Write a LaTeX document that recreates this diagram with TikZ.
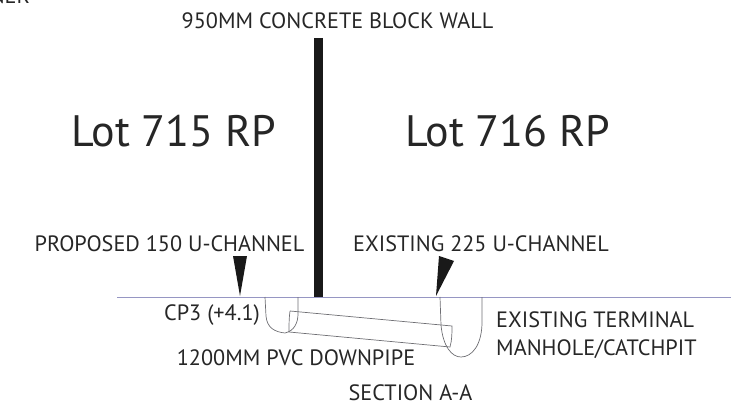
\documentclass[tikz,border=0pt]{standalone}
\usepackage{fontspec}
\setmainfont{PT Sans}
\usepackage{xcolor}
\definecolor{groundblue}{RGB}{150,150,195}
\definecolor{channelgray}{RGB}{110,110,115}
\tikzset{
 small label/.style={font=\fontsize{22.2}{24}\selectfont, text=black!85, inner sep=0pt, anchor=base},
 lot label/.style={font=\fontsize{44}{48}\selectfont, text=black!85, inner sep=0pt, anchor=base},
 channel/.style={color=channelgray, line width=0.7pt}
}
\begin{document}
\begin{tikzpicture}[x=1pt, y=-1pt]
 \useasboundingbox (0,0) rectangle (731,417);
 \coordinate (groundL) at (117,297);
 \coordinate (groundR) at (731,297);
 \coordinate (wallT) at (318.5,38);
 \coordinate (wallB) at (318.5,297);

 \node[small label, anchor=base east] (topcut) at (30,4) {NER};
 \node[small label] (walllabel) at (337.5,29) {950MM CONCRETE BLOCK WALL};
 \node[lot label] (lot715) at (174,147) {Lot 715 RP};
 \node[lot label] (lot716) at (508,147) {Lot 716 RP};
 \node[small label] (proposed) at (169.5,251) {PROPOSED 150 U-CHANNEL};
 \node[small label] (existing) at (481,251) {EXISTING 225 U-CHANNEL};
 \node[small label] (cp3) at (212,320) {CP3 (+4.1)};
 \node[small label] (downpipe) at (296,365) {1200MM PVC DOWNPIPE};
 \node[small label] (section) at (410.5,400) {SECTION A-A};
 \node[small label, anchor=base west] (manhole1) at (496,327) {EXISTING TERMINAL};
 \node[small label, anchor=base west] (manhole2) at (496,355) {MANHOLE/CATCHPIT};

 \draw[groundblue, line width=0.8pt] (groundL) -- (groundR);
 \draw[line width=9pt, color=black!90] (wallT) -- (wallB);

 \fill[black!90] (233,256) -- (247,256) -- (240,296) -- cycle;
 \fill[black!90] (439,256) -- (454,261) -- (436,296) -- cycle;

 \draw[channel] (265,297) -- (266,316) .. controls (267,328) and (275,332) .. (285,333) .. controls (294,331) and (298,323) .. (298,314) -- (298,297);
 \draw[channel] (440,297) -- (441,325) .. controls (443,347) and (452,357) .. (461,357) .. controls (472,357) and (482,345) .. (482,322) -- (482,297);

 \draw[channel] (290,311) -- (452,326) .. controls (452,333) and (452,340) .. (450,347) -- (289,332) .. controls (289,325) and (289,318) .. (290,311);

 \end{tikzpicture}
\end{document}
